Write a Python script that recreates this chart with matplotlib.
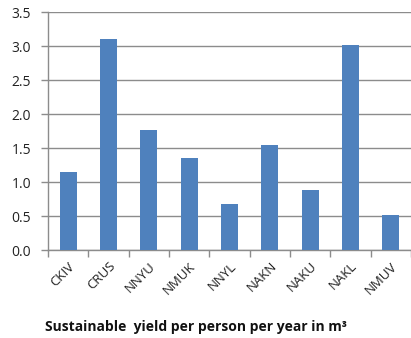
import matplotlib
matplotlib.use("Agg")
import matplotlib.pyplot as plt
import numpy as np

categories = ["CKIV", "CRUS", "NNYU", "NMUK", "NNYL", "NAKN", "NAKU", "NAKL", "NMUV"]
values = [1.15, 3.11, 1.77, 1.36, 0.67, 1.54, 0.88, 3.01, 0.51]
yticks = [0.0, 0.5, 1.0, 1.5, 2.0, 2.5, 3.0, 3.5]

plt.rcParams['font.family'] = ['Open Sans', 'DejaVu Sans']

fig = plt.figure(figsize=(4.11, 3.38), dpi=100)
ax = fig.add_axes([48/411, 1 - 250/338, 363/411, 238/338])

x = np.arange(len(categories))
ax.bar(x, values, width=0.42, color="#4F81BD", zorder=3)

grid_color = "#8C8C8C"
ax.set_xlim(-0.5, len(categories) - 0.5)
ax.set_ylim(0, 3.5)
ax.set_yticks(yticks)
ax.set_yticklabels([f"{v:.1f}" for v in yticks], fontsize=10, color="#222222")
ax.yaxis.grid(True, color=grid_color, linewidth=1.0, zorder=0)
ax.tick_params(axis="y", length=5, color=grid_color, width=1.0, pad=7)

ax.set_xticks(x)
ax.set_xticklabels(categories, rotation=45, ha="right", rotation_mode="anchor",
                   fontsize=9.5, color="#222222")
ax.tick_params(axis="x", which="major", length=0, pad=7)
ax.set_xticks(np.arange(-0.5, len(categories) + 0.5, 1.0), minor=True)
ax.tick_params(axis="x", which="minor", length=5, color=grid_color, width=1.0)

for side in ["top", "right"]:
    ax.spines[side].set_visible(False)
for side in ["left", "bottom"]:
    ax.spines[side].set_color(grid_color)
    ax.spines[side].set_linewidth(1.0)

fig.text(45/411, 1 - 327/338, "Sustainable  yield per person per year in m³",
         fontsize=10, fontweight="bold", color="#111111", va="center", ha="left")

fig.savefig("out.png", dpi=100)
